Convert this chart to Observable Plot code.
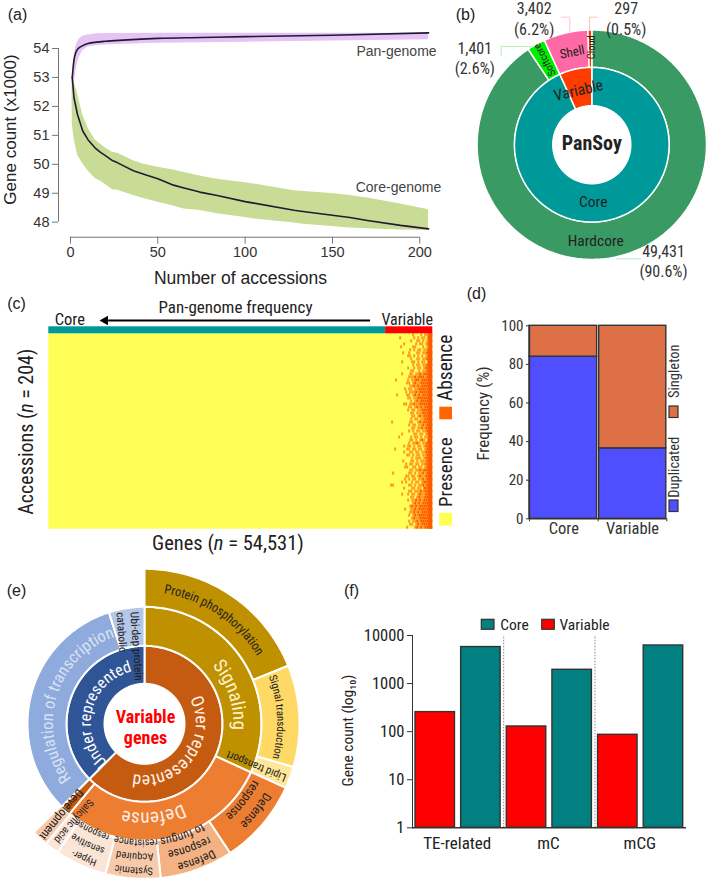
<!DOCTYPE html>
<html><head><meta charset="utf-8">
<script src="https://cdn.jsdelivr.net/npm/d3@7"></script>
<script src="https://cdn.jsdelivr.net/npm/@observablehq/plot@0.6"></script>
<style>html,body{margin:0;padding:0;background:#fff}#page{position:relative;width:709px;height:881px;overflow:hidden}svg{position:absolute;overflow:visible;background:transparent}</style>
</head><body><div id="page"></div>
<script>
const NARROW='"Liberation Sans Narrow","Roboto Condensed","Liberation Sans",sans-serif';
const SANS='"Liberation Sans",Arial,sans-serif';

// (a) rarefaction curves
const panX=[1,2,3,4,5,7,10,15,20,30,50,75,100,150,205];
const panLine=[53.0,53.6,53.85,53.97,54.03,54.1,54.17,54.22,54.25,54.29,54.35,54.38,54.41,54.46,54.54];
const panHigh=[53.0,53.7,54.05,54.22,54.33,54.42,54.47,54.51,54.52,54.52,54.53,54.53,54.53,54.53,54.53];
const panLow=[51.8,52.7,53.2,53.5,53.7,53.92,54.05,54.1,54.12,54.15,54.18,54.2,54.22,54.26,54.3];
const coreX=[1,2,4,7,10,14,17,20,24,27,36,42,50,59,65,74,84,100,105,128,132,151,160,170,189,205];
const coreLine=[53.0,52.3,51.72,51.15,50.85,50.57,50.42,50.3,50.13,50.05,49.78,49.66,49.5,49.28,49.18,49.04,48.92,48.71,48.66,48.41,48.38,48.23,48.16,48.06,47.89,47.77];
const coreHigh=[53.0,52.85,52.45,51.7,51.25,50.85,50.7,50.56,50.42,50.38,50.12,50.0,49.9,49.8,49.72,49.6,49.48,49.36,49.32,49.09,49.07,48.98,48.92,48.84,48.63,48.43];
const coreLow=[51.4,50.9,50.32,50.02,49.78,49.52,49.42,49.3,49.12,49.1,48.92,48.82,48.69,48.56,48.46,48.4,48.29,48.16,48.11,47.97,47.94,47.84,47.8,47.77,47.73,47.71];

// (b) pan-genome composition
const compNames=["Hardcore","Softcore","Shell","Cloud"];
const compCounts=[49431,1401,3402,297];
const compColors=["#3a9a64","#00ee00","#ff69a6","#ff3a00"];
const groupNames=["Core","Variable"];
const groupCounts=[50832,3699];
const groupColors=["#009999","#ff3c00"];

// (c) presence/absence, rows of the variable end of the matrix
const heatRows=[
"................o...o.oo##","..........o......o.o.oo.##","...............o..oo.o.o##","............o.....o.oo.o##",
"..........o.....oo...o.o##","...............o.o.oo.oo##","...........o..o...oo.oo###","..............oo.o.o.o.o##",
"...............o..oo.oo###","...........o....oo.o.oo.##","................o.oo.oo###","..............o..o.oo.o###",
"...............oo..o.oo###","...........o...oo.oo#o####","..............ooo#o###o###","........o.....o.oo##o#####",
".............oo.o#oo######","...............oo#o#o#####","............o.oo.oo#######",".............o.ooo#o######",
"........o....oo.o#o#o#####","..............oo.oo#######","...............o.o#o######","............oo.oo#oo######",
"..............oo.o#o#o####","..............o.oo.oo#####","...............oo.ooo#####","................oo.o#o####",
"...............o.oo.oo####","......o........oo..o#o####","..............o.oo.oo#o###","................oo.oo#o###",
"..............o.o.oo.oo###","...........o.....oo.oo.o##",".........o.....o.oo.o.oo##","...............oo.o.o#o.##",
"..............o.oo#o.oo###","............o.oo.o.oo.o###",".......o.....oo.oo.oo.o###","............o..oo.oo.oo###",
".............oo.o.oo.oo###","................o.ooo.o###","...........o...oo.o.ooo###",".............o.oo.oo.oo###",
"............oo..oo.oo.o###","...............oo.oo#o####","......o.......oo.o.oo#o###",".............oo.oo.o#oo###",
"............o.o.oo.oo#o###","...........o.o..o.oo.o####",".....oo.......oo.o.oo#o###","............o...oo.oo.####",
"..............oo.ooo#o####","...........o..o.oo.o#oo###","...............oo.o#oo####","..............o.oo#o#o####",
"................o#o#o#####","...............o#o#o######","............o..oo#o#######","...............oo#o#o#####",
"..............o.o#o#######","................o#oo######","..............o.oo#o######","...............oo.o#o#####",".............o...o#o#o####"];
const geneTotal=54531, accessionTotal=204, heatStartGene=47105, coreEndGene=47830;

// (d) duplicated vs singleton
const freqGroups=["Core","Variable"];
const freqDuplicated=[84,36.5];
const freqSingleton=[16,63.5];

// (e) sunburst, sweep of each slice in degrees, clockwise from the top
const ring1Names=["Over represented","Under represented"];
const ring1Sweep=[225,135];
const ring1Colors=["#c55a11","#2f5597"];
const ring2Names=["Signaling","Defense","Development","Regulation of transcription","Ubi-dep protein catabolic"];
const ring2Sweep=[114.5,105.3,5.2,117.3,17.7];
const ring2Colors=["#bf9000","#ed7d31","#c55a11","#8faadc","#b4c7e7"];
const ring3Names=["Protein phosphorylation","Signal transduction","Lipid transport","Defense response","Defense response to fungus","Systemic Acquired resistance","Hyper-sensitive response","Salicylic acid","Development"];
const ring3Sweep=[68,38.2,8.2,32.1,27.5,20.6,19.4,5.4,6.2];
const ring3Colors=["#bf9000","#ffd966","#ffe699","#ed7d31","#f4b183","#f7caac","#fbe5d6","#fbe5d6","#f7caac"];

// (f) gene counts
const countGroups=["TE-related","mC","mCG"];
const countVariable=[255,128,86];
const countCore=[5750,1936,6200];

const page=document.getElementById("page");
function panel(p,scales,build){
  const ml=p.ml||0,mt=p.mt||0,mr=p.mr||0,mb=p.mb||0;
  const note=(t,x,y,o={})=>Plot.text([t],{text:d=>d,frameAnchor:"top-left",dx:x-p.left-ml,dy:y-p.top-mt,textAnchor:"middle",lineAnchor:"middle",fontFamily:NARROW,fill:"#222",fontSize:15,...o});
  const swatch=(x0,y0,x1,y1,fill,stroke)=>()=>{
    const r=document.createElementNS("http://www.w3.org/2000/svg","rect");
    r.setAttribute("x",x0-p.left);r.setAttribute("y",y0-p.top);r.setAttribute("width",x1-x0);r.setAttribute("height",y1-y0);r.setAttribute("fill",fill);
    if(stroke){r.setAttribute("stroke",stroke);r.setAttribute("stroke-width",1.2);}
    return r;};
  const rich=(parts,x,y,o={})=>()=>{
    const ns="http://www.w3.org/2000/svg";const t=document.createElementNS(ns,"text");
    t.setAttribute("transform",`translate(${x-p.left},${y-p.top}) rotate(${o.rotate||0})`);
    t.setAttribute("text-anchor","middle");t.setAttribute("dy","0.35em");t.setAttribute("font-family",o.fontFamily||NARROW);t.setAttribute("font-size",o.fontSize||17);t.setAttribute("fill","#222");
    for(const [s,style] of parts){const ts=document.createElementNS(ns,"tspan");ts.textContent=s;
      if(style==="i")ts.setAttribute("font-style","italic");
      t.appendChild(ts);}
    return t;};
  const svg=Plot.plot({width:p.w,height:p.h,marginLeft:ml,marginTop:mt,marginRight:mr,marginBottom:mb,style:{fontFamily:NARROW,fontSize:"14px",background:"transparent",overflow:"visible"},...scales,marks:build({note,swatch,rich})});
  svg.style.left=p.left+"px";svg.style.top=p.top+"px";page.appendChild(svg);
}

// polar helpers shared by (b) and (e)
const toXY=(deg,r)=>({x:r*Math.sin(deg*Math.PI/180),y:r*Math.cos(deg*Math.PI/180)});
function wedge(a0,a1,r0,r1,fill,w=2){
  const n=Math.max(2,Math.ceil(Math.abs(a1-a0)));const pts=[];
  for(let i=0;i<=n;i++)pts.push(toXY(a0+(a1-a0)*i/n,r1));
  for(let i=n;i>=0;i--)pts.push(toXY(a0+(a1-a0)*i/n,r0));
  pts.push(pts[0]);
  return Plot.line(pts,{x:"x",y:"y",fill,stroke:"white",strokeWidth:w,strokeLinejoin:"miter"});
}
function ring(values,colors,r0,r1,w){let a=0;return values.map((v,i)=>{const m=wedge(a,a+v,r0,r1,colors[i],w);a+=v;return m;});}
let arcId=0;
function arcText(label,deg,r,o={}){
  return (index,{x,y})=>{
    const ns="http://www.w3.org/2000/svg";
    const size=o.fontSize||12;const rb=r-size*0.35;const id="arc"+(arcId++);
    const g=document.createElementNS(ns,"g");
    const a=toXY(deg-130,rb),b=toXY(deg+130,rb);const rp=x(rb)-x(0);
    const path=document.createElementNS(ns,"path");path.setAttribute("id",id);path.setAttribute("fill","none");
    path.setAttribute("d",`M${x(a.x)},${y(a.y)}A${rp},${rp} 0 1 1 ${x(b.x)},${y(b.y)}`);
    const t=document.createElementNS(ns,"text");t.setAttribute("text-anchor","middle");t.setAttribute("font-family",NARROW);t.setAttribute("font-size",size);t.setAttribute("fill",o.fill||"#222");
    const tp=document.createElementNS(ns,"textPath");tp.setAttribute("href","#"+id);tp.setAttribute("startOffset","50%");tp.textContent=label;
    if(o.len){tp.setAttribute("textLength",o.len);tp.setAttribute("lengthAdjust","spacingAndGlyphs");}
    t.appendChild(tp);g.appendChild(path);g.appendChild(t);return g;};
}

// ---- (a)
{const p={left:0,top:0,w:440,h:290,ml:58,mb:53.3};
 panel(p,{x:{domain:[0,200],range:[70,419.3]},y:{domain:[48,54],range:[221.7,48]}},({note})=>[
  Plot.areaY(panX.map((x,i)=>({x,a:panLow[i],b:panHigh[i]})),{x:"x",y1:"a",y2:"b",fill:"#e6c3f5"}),
  Plot.areaY(coreX.map((x,i)=>({x,a:coreLow[i],b:coreHigh[i]})),{x:"x",y1:"a",y2:"b",fill:"#c9dc96"}),
  Plot.line(panX.map((x,i)=>({x,y:panLine[i]})),{x:"x",y:"y",stroke:"#221a33",strokeWidth:1.6,curve:"monotone-x"}),
  Plot.line(coreX.map((x,i)=>({x,y:coreLine[i]})),{x:"x",y:"y",stroke:"#221a33",strokeWidth:1.6}),
  Plot.ruleY([47.48],{x1:0,x2:200,stroke:"#777"}),
  Plot.ruleX([-6.87],{y1:48,y2:54,stroke:"#777"}),
  Plot.axisX({ticks:[0,50,100,150,200],tickSize:7,tickPadding:3,stroke:"#777",fill:"#333",fontSize:14.5,fontFamily:SANS,label:null}),
  Plot.axisY({ticks:[48,49,50,51,52,53,54],tickSize:6,tickPadding:3,stroke:"#777",fill:"#333",fontSize:14.5,fontFamily:SANS,label:null,tickFormat:d3.format("d")}),
  note("(a)",17,14,{fontSize:16,fontFamily:SANS}),
  note("Gene count (x1000)",10,129,{rotate:-90,fontSize:17,fontFamily:SANS}),
  note("Number of accessions",240,278,{fontSize:17.5,fontFamily:SANS}),
  note("Pan-genome",396,51,{fontSize:14,fontFamily:SANS,fill:"#444"}),
  note("Core-genome",398,187,{fontSize:14,fontFamily:SANS,fill:"#444"})
 ]);
}

// ---- (b)
{const p={left:440,top:0,w:269,h:283};const cx=591.3,cy=144.2,R=114.7;
 const lead=(pts,stroke)=>Plot.line(pts.map(([a,b])=>({x:(a-cx)/R,y:(cy-b)/R})),{x:"x",y:"y",stroke,strokeWidth:1});
 const deg=v=>v/geneTotal*360;
 panel(p,{x:{domain:[-1,1],range:[cx-R-p.left,cx+R-p.left],axis:null},y:{domain:[-1,1],range:[cy+R,cy-R],axis:null}},({note})=>[
  ...ring(compCounts.map(deg),compColors,0.674,1,1.5),
  ...ring(groupCounts.map(deg),groupColors,0.34,0.674,1.5),
  lead([[560.7,16.7],[569.3,16.7],[569.3,31.7]],"#ffc4d8"),
  lead([[596.7,16.7],[589,16.7],[589,30]],"#ffc0b0"),
  lead([[500.7,55],[500.7,46],[531.7,46]],"#b6f0b6"),
  lead([[615.7,258.3],[640,258.3]],"#bfe5cf"),
  note("PanSoy",591.3,142.7,{fontSize:20,fontWeight:"bold"}),
  note("Hardcore",595.3,240.7,{fontSize:15.5}),
  note("Core",592.7,202,{fontSize:15.5}),
  note("Variable",578,90,{fontSize:15.5,rotate:-13}),
  note("Shell",571.7,51.7,{fontSize:13,rotate:-11}),
  note("Cloud",591.5,46.7,{fontSize:10.5,rotate:-90}),
  note("Softcore",544.3,59.3,{fontSize:10.5,rotate:-118}),
  note("(b)",465,14,{fontSize:16,fontFamily:SANS}),
  note("3,402\n(6.2%)",533.7,17.5,{fontSize:16,lineHeight:1.28,fill:"#333"}),
  note("297\n(0.5%)",625.7,17.5,{fontSize:16,lineHeight:1.28,fill:"#333"}),
  note("1,401\n(2.6%)",474.3,56.7,{fontSize:16,lineHeight:1.28,fill:"#333"}),
  note("49,431\n(90.6%)",663,260,{fontSize:16,lineHeight:1.28,fill:"#333"})
 ]);
}

// ---- (c)
{const p={left:0,top:290,w:460,h:265};
 const cells=[];const step=(geneTotal-heatStartGene)/heatRows[0].length,rowStep=accessionTotal/heatRows.length;
 heatRows.forEach((row,j)=>[...row].forEach((c,i)=>{if(c!==".")cells.push({x1:heatStartGene+Math.max(0,i-(j%2)*0.5)*step,x2:heatStartGene+(i+1-(j%2)*0.5)*step,y1:j*rowStep,y2:(j+1)*rowStep,k:c});}));
 panel(p,{x:{domain:[0,geneTotal],range:[48.3,432.3],axis:null},y:{domain:[0,accessionTotal],range:[43.3,238.7],axis:null},color:{type:"identity"}},({note,swatch,rich})=>[
  Plot.rect([{x1:0,x2:geneTotal,y1:0,y2:accessionTotal}],{x1:"x1",x2:"x2",y1:"y1",y2:"y2",fill:"#ffff55"}),
  Plot.rect(cells,{x1:"x1",x2:"x2",y1:"y1",y2:"y2",fill:d=>d.k==="#"?"#ff5c00":"#ff9a28"}),
  Plot.rect([{x1:geneTotal-570,x2:geneTotal,y1:0,y2:accessionTotal}],{x1:"x1",x2:"x2",y1:"y1",y2:"y2",fill:"#ff5a00"}),
  Plot.rect([{x1:0,x2:coreEndGene,f:"#009999"},{x1:coreEndGene,x2:geneTotal,f:"#ff0000"}],{x1:"x1",x2:"x2",y1:()=>-7.3,y2:()=>0,fill:"f"}),
  Plot.ruleY([-13.9],{x1:45696,x2:8500,stroke:"#000",strokeWidth:1.8}),
  Plot.dot([{x:8000,y:-13.9}],{x:"x",y:"y",symbol:"triangle",rotate:-90,r:3.6,fill:"#000"}),
  note("Pan-genome frequency",235,307.3,{fontSize:17}),
  note("Core",69.3,319.3,{fontSize:16.5}),
  note("Variable",406.7,319.3,{fontSize:16}),
  note("(c)",16,303,{fontSize:16,fontFamily:SANS}),
  rich([["Accessions ("],["n","i"],[" = 204)"]],26,431.7,{rotate:-90,fontSize:20}),
  rich([["Genes ("],["n","i"],[" = 54,531)"]],228,543.3,{fontSize:20.5}),
  note("Absence",445,367.3,{rotate:-90,fontSize:19.5}),
  note("Presence",445,471.7,{rotate:-90,fontSize:19}),
  swatch(439.3,406.7,452,419.3,"#ff6600"),
  swatch(439.3,512.7,452,525.7,"#ffff55")
 ]);
}

// ---- (d)
{const p={left:460,top:283,w:249,h:265,ml:69,mb:29.7,mt:42.3};
 const rows=freqGroups.flatMap((g,i)=>[
  {x1:i,x2:i+1,y1:0,y2:freqDuplicated[i],f:"#4f4fff"},
  {x1:i,x2:i+1,y1:freqDuplicated[i],y2:100,f:"#de7048"}]);
 panel(p,{x:{domain:[0,2],range:[69,206.3]},y:{domain:[0,100]},color:{type:"identity"}},({note,swatch})=>[
  Plot.rect(rows.filter(d=>d.x1===0),{x1:"x1",x2:"x2",y1:"y1",y2:"y2",fill:"f",stroke:"#333",strokeWidth:1.4,insetRight:1}),
  Plot.rect(rows.filter(d=>d.x1===1),{x1:"x1",x2:"x2",y1:"y1",y2:"y2",fill:"f",stroke:"#333",strokeWidth:1.4,insetLeft:1,insetRight:.5}),
  Plot.ruleY([0],{x1:0,x2:2,stroke:"#333",strokeWidth:1.4}),
  Plot.ruleX([0],{y1:0,y2:100,stroke:"#333",strokeWidth:1.4}),
  Plot.axisX({ticks:[0,1,2],tickFormat:()=>"",tickSize:3,stroke:"#333",label:null}),
  Plot.axisY({ticks:[0,20,40,60,80,100],tickSize:3,tickPadding:3,stroke:"#333",fill:"#333",fontSize:15,fontFamily:NARROW,label:null}),
  Plot.text(freqGroups,{x:(d,i)=>i+0.5,text:d=>d,frameAnchor:"bottom",dy:15,fontSize:16.5,fill:"#333"}),
  note("(d)",476,293,{fontSize:16,fontFamily:SANS}),
  note("Frequency (%)",482.7,413,{rotate:-90,fontSize:17,fill:"#333"}),
  note("Singleton",674,370.7,{rotate:-90,fontSize:14.5,fill:"#333"}),
  note("Duplicated",674,466.7,{rotate:-90,fontSize:14.5,fill:"#333"}),
  swatch(669,406,678,417.5,"#de7048","#333"),
  swatch(669,500,678,511.5,"#4f4fff","#333")
 ]);
}

// ---- (e)
{const p={left:0,top:555,w:320,h:326};const cx=144,cy=723.3,U=160;
 const ctext=(s,a,r,fs,fill,len)=>arcText(s,a,r,{fontSize:fs,fill,len});
 panel(p,{x:{domain:[-U,U],range:[cx-U,cx+U],axis:null},y:{domain:[-U,U],range:[cy-p.top+U,cy-p.top-U],axis:null}},({note})=>[
  ...ring(ring1Sweep,ring1Colors,40,78),
  ...ring(ring2Sweep,ring2Colors,78,117),
  ...ring(ring3Sweep,ring3Colors,117,155),
  ctext(ring3Names[0],34,136,13,"#222",116),
  ctext(ring3Names[1],87.3,137,11,"#222",83),
  ctext("Defense",128,143,12.5),ctext("response",128,127,12.5),
  ctext("Defense",159,148,12),ctext("response",160,134,12),ctext("to fungus",161,120,12),
  ctext("Systemic",184,148,10.5),ctext("Acquired",184,134,10.5),ctext("resistance",184,120,10.5),
  ctext("Hyper-",204,148,10),ctext("sensitive",205,134,10),ctext("response",206,120,10),
  ctext(ring2Names[0],72,96,19,"#fff2cc"),
  ctext(ring2Names[1],174,96,19,"#fdeee3"),
  ctext(ring2Names[3],287,97,16.5,"#dae3f3"),
  ctext(ring1Names[0],127,58,17.5,"#fff2e8"),
  ctext(ring1Names[1],285,59,16,"#ffffff"),
  note("Lipid transport",255.7,765.7,{rotate:-157.5,fontSize:11}),
  note("Ubi-dep protein",136,645.7,{rotate:86,fontSize:11.5}),
  note("catabolic",121,631.7,{rotate:86,fontSize:11}),
  note("Salicylic acid",73.3,820.7,{rotate:131,fontSize:10.5}),
  note("Development",60.7,814,{rotate:129,fontSize:12}),
  note("Variable\ngenes",145,726,{fontSize:18,fontWeight:"bold",fill:"#ff0000",lineHeight:1.2}),
  note("(e)",16,590,{fontSize:16,fontFamily:SANS})
 ]);
}

// ---- (f)
{const p={left:320,top:580,w:389,h:301,ml:92,mt:55,mb:53.7,mr:23};
 const keys=countGroups.flatMap(g=>[g+" Variable",g+" Core"]);
 const rows=countGroups.flatMap((g,i)=>[{k:g+" Variable",v:countVariable[i],f:"#ff0000"},{k:g+" Core",v:countCore[i],f:"#008080"}]);
 const step=45.64;
 panel(p,{x:{domain:keys,range:[95,362.7],paddingInner:0.135,paddingOuter:0,round:false,axis:null},y:{type:"log",domain:[1,10000]},color:{type:"identity"}},({note,swatch,rich})=>[
  Plot.ruleX([keys[1],keys[3]],{x:d=>d,y1:()=>1,y2:()=>10000,dx:step/2,stroke:"#888",strokeDasharray:"1.5,1.5"}),
  Plot.barY(rows,{x:"k",y1:()=>1,y2:"v",fill:"f",stroke:"#333",strokeWidth:1.4}),
  Plot.ruleY([1],{stroke:"#333",strokeWidth:1.4}),
  Plot.frame({anchor:"left",stroke:"#333"}),
  Plot.axisY({ticks:[1,10,100,1000,10000],tickFormat:d3.format("d"),tickSize:5,tickPadding:3,stroke:"#333",fill:"#222",fontSize:16.5,fontFamily:NARROW,label:null}),
  Plot.text(countGroups,{x:(d,i)=>keys[2*i],text:d=>d,frameAnchor:"bottom",dy:21,dx:22,fontSize:17,fill:"#222"}),
  swatch(481.3,619.3,494,629.3,"#008080","#333"),
  swatch(541.7,619.3,554.3,629.3,"#ff0000","#333"),
  note("Core",514,625,{fontSize:15.5}),
  note("Variable",584,625,{fontSize:15.5}),
  note("Gene count (log₁₀)",348,730,{rotate:-90,fontSize:15.5}),
  note("(f)",351,590,{fontSize:16,fontFamily:SANS})
 ]);
}
</script></body></html>
